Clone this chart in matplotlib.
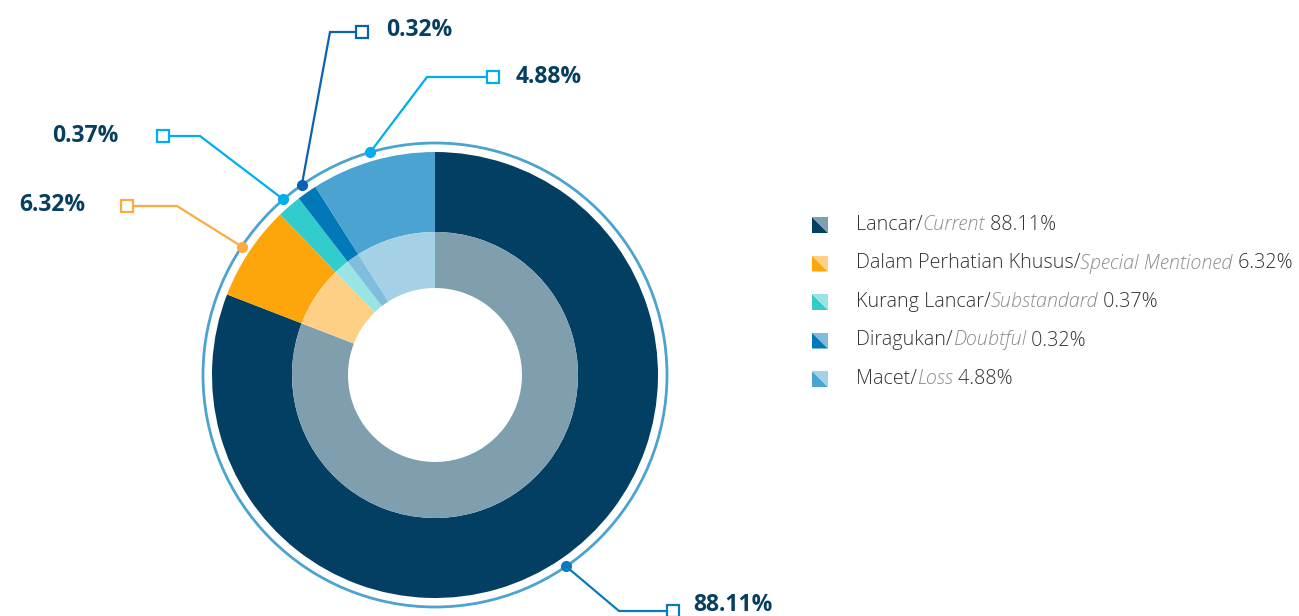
import matplotlib.pyplot as plt
from matplotlib.patches import Circle, Polygon
import numpy as np

W, H = 1299, 616

# data
labels_id = ['Lancar/', 'Dalam Perhatian Khusus/', 'Kurang Lancar/', 'Diragukan/', 'Macet/']
labels_en = ['Current', 'Special Mentioned', 'Substandard', 'Doubtful', 'Loss']
percents = [88.11, 6.32, 0.37, 0.32, 4.88]
# share of the ring as it is drawn in the picture (small classes are enlarged)
ring_share = [80.8, 6.9, 1.75, 1.45, 9.0]

outer_colors = ['#023f62', '#fca60b', '#33cccc', '#0179b8', '#4aa3d0']
inner_colors = ['#7f9faf', '#fed085', '#99e5e5', '#80bcdb', '#a5d1e7']
line_colors = ['#0a7ac0', '#f9ad40', '#00aeef', '#0a62b0', '#00aeef']

# label layout in pixels: (elbow x, elbow y, square x, text x, text y, text align)
label_pos = [
    (619, 611, 673, 693, 605, 'left'),
    (177, 206, 127, 85, 205, 'right'),
    (200, 136, 163, 119, 136, 'right'),
    (330, 32, 362, 386, 30, 'left'),
    (427, 77, 493, 516, 77, 'left'),
]


def py(y):
    return H - y


fig = plt.figure(figsize=(W / 100, H / 100), dpi=100)
ax = fig.add_axes([0, 0, 1, 1])

cx, cy = 435, py(375)
wedges, _ = ax.pie(ring_share, radius=223, center=(cx, cy), colors=outer_colors,
                   startangle=90, counterclock=False,
                   wedgeprops=dict(width=80, linewidth=0))
ax.pie(ring_share, radius=143, center=(cx, cy), colors=inner_colors,
       startangle=90, counterclock=False,
       wedgeprops=dict(width=56, linewidth=0))
ax.set_xlim(0, W)
ax.set_ylim(0, H)
ax.set_aspect('equal')
ax.axis('off')

ax.add_patch(Circle((cx, cy), 232, fill=False, ec='#4ba3d0', lw=2.0, zorder=3))

# callouts
for w, pct, col, (ex, ey, sx, tx, ty, ha) in zip(wedges, percents, line_colors, label_pos):
    mid = np.radians((w.theta1 + w.theta2) / 2)
    dx, dy = cx + 232 * np.cos(mid), cy + 232 * np.sin(mid)
    ax.plot([dx, ex, sx], [dy, py(ey), py(ey)], color=col, lw=1.6, zorder=4,
            solid_joinstyle='miter')
    ax.plot(dx, dy, 'o', color=col, ms=7, zorder=5)
    ax.plot(sx, py(ey), 's', mfc='white', mec=col, mew=1.6, ms=8, zorder=5)
    ax.text(tx, py(ty), f'{pct:.2f}%', ha=ha, va='center', fontsize=16.5,
            fontweight='bold', color='#063f60', family='Open Sans')

# legend
lx, ly0, step, sz = 812, 225, 38.5, 16
fs = 14.2
for i in range(len(percents)):
    yc = py(ly0 + i * step)
    x0, x1 = lx, lx + sz
    y0, y1 = yc - sz / 2, yc + sz / 2
    ax.add_patch(Polygon([[x0, y1], [x1, y0], [x0, y0]], closed=True,
                         fc=outer_colors[i], ec='none'))
    ax.add_patch(Polygon([[x0, y1], [x1, y1], [x1, y0]], closed=True,
                         fc=inner_colors[i], ec='none'))
    t1 = ax.text(856, yc, labels_id[i], ha='left', va='center', fontsize=fs,
                 color='#333333', family='Open Sans', fontweight='light')
    t2 = ax.annotate(labels_en[i], xy=(1, 0), xycoords=t1, va='bottom',
                     fontsize=fs, color='#8c8c8c', family='Open Sans',
                     fontstyle='italic', fontweight='light')
    ax.annotate(f' {percents[i]:.2f}%', xy=(1, 0), xycoords=t2, va='bottom',
                fontsize=fs, color='#333333', family='Open Sans',
                fontweight='light')

fig.savefig('out.png', dpi=100)
